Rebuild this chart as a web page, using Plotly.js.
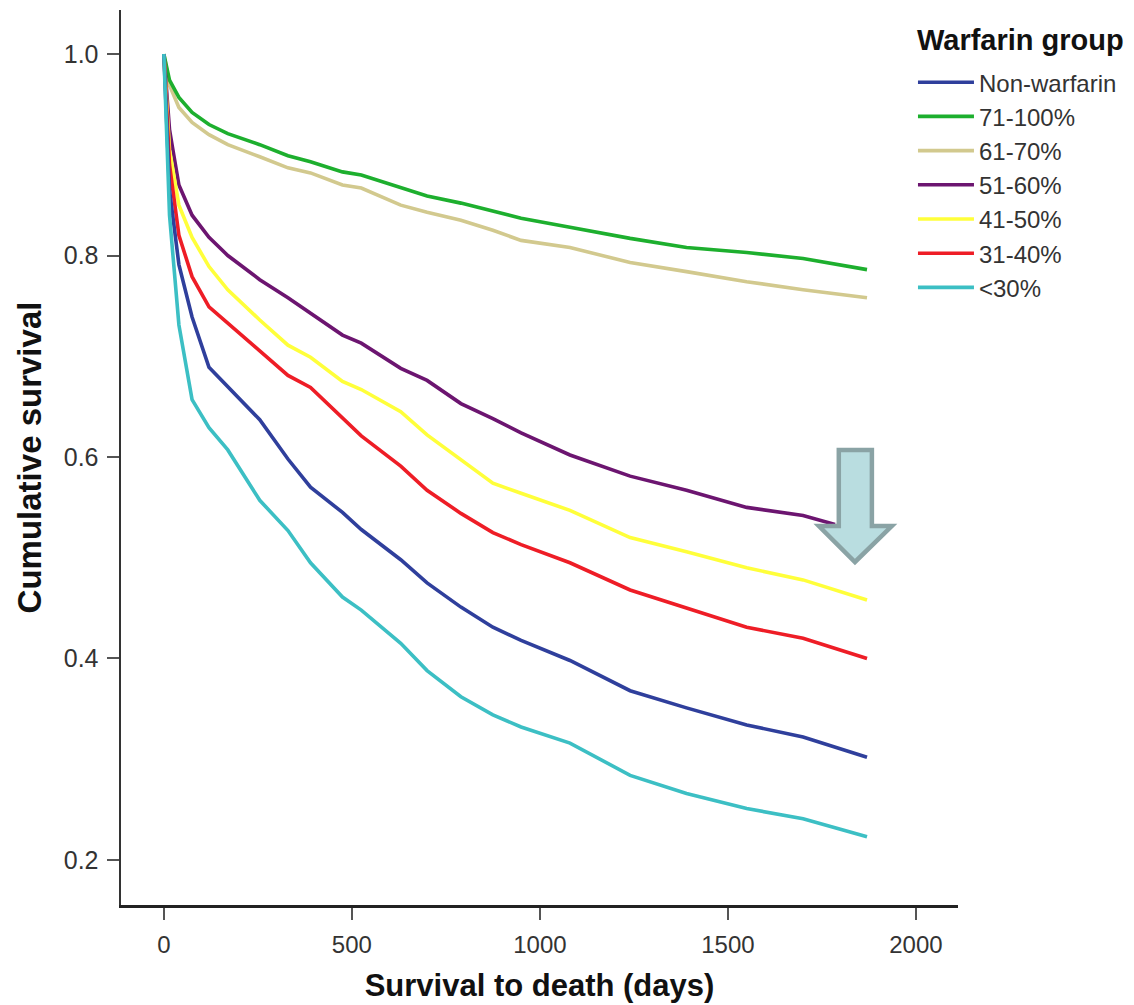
<!DOCTYPE html>
<html>
<head>
<meta charset="utf-8">
<script src="https://cdn.plot.ly/plotly-3.0.1.min.js"></script>
<style>html,body{margin:0;padding:0;background:#fff;}#chart{width:1134px;height:1005px;}</style>
</head>
<body>
<div id="chart"></div>
<script>
// ---- data ----
const seriesNames = ["Non-warfarin", "71-100%", "61-70%", "51-60%", "41-50%", "31-40%", "<30%"];
const legendTitle = "Warfarin group";
const days = [0, 15, 40, 75, 120, 170, 255, 330, 390, 475, 525, 630, 700, 790, 875, 950, 1080, 1240, 1390, 1550, 1700, 1870];
const daysPurple = [0, 15, 24, 40, 75, 120, 170, 255, 330, 390, 475, 525, 630, 700, 790, 875, 950, 1080, 1240, 1390, 1550, 1700, 1785];

const nonWarfarin = [1.0, 0.865, 0.791, 0.739, 0.689, 0.670, 0.637, 0.598, 0.570, 0.545, 0.528, 0.498, 0.475, 0.451, 0.431, 0.418, 0.398, 0.368, 0.351, 0.334, 0.322, 0.302];
const ttr71to100 = [1.0, 0.974, 0.957, 0.942, 0.930, 0.921, 0.910, 0.899, 0.893, 0.883, 0.880, 0.867, 0.859, 0.852, 0.844, 0.837, 0.828, 0.817, 0.808, 0.803, 0.797, 0.786];
const ttr61to70 = [1.0, 0.969, 0.947, 0.932, 0.920, 0.910, 0.898, 0.887, 0.882, 0.870, 0.867, 0.850, 0.843, 0.835, 0.825, 0.815, 0.808, 0.793, 0.784, 0.774, 0.766, 0.758];
const ttr51to60 = [1.0, 0.925, 0.905, 0.870, 0.840, 0.818, 0.800, 0.776, 0.758, 0.743, 0.721, 0.713, 0.688, 0.676, 0.653, 0.638, 0.624, 0.602, 0.581, 0.567, 0.550, 0.542, 0.533];
const ttr41to50 = [1.0, 0.905, 0.850, 0.818, 0.789, 0.766, 0.736, 0.711, 0.699, 0.675, 0.667, 0.645, 0.622, 0.597, 0.574, 0.564, 0.547, 0.520, 0.506, 0.490, 0.478, 0.458];
const ttr31to40 = [1.0, 0.890, 0.820, 0.779, 0.749, 0.733, 0.706, 0.681, 0.669, 0.639, 0.621, 0.591, 0.567, 0.544, 0.525, 0.513, 0.495, 0.468, 0.450, 0.431, 0.420, 0.400];
const ttrBelow30 = [1.0, 0.840, 0.731, 0.657, 0.629, 0.607, 0.557, 0.527, 0.495, 0.461, 0.448, 0.415, 0.388, 0.362, 0.344, 0.332, 0.316, 0.284, 0.266, 0.251, 0.241, 0.223];

const xTicks = [0, 500, 1000, 1500, 2000];
const yTicks = [0.2, 0.4, 0.6, 0.8, 1.0];
const yTickText = ["0.2", "0.4", "0.6", "0.8", "1.0"];

// ---- styling ----
const colors = ["#2F3F9C", "#1DAF2E", "#D2C98E", "#6C1570", "#FFFF3A", "#EE1D26", "#3CBFC4"];
const seriesX = [days, days, days, daysPurple, days, days, days];
const seriesY = [nonWarfarin, ttr71to100, ttr61to70, ttr51to60, ttr41to50, ttr31to40, ttrBelow30];
const drawOrder = [2, 1, 3, 4, 5, 0, 6];

const traces = seriesNames.map((name, i) => ({
  type: "scatter",
  mode: "lines",
  name: name,
  x: seriesX[i],
  y: seriesY[i],
  line: {color: colors[i], width: 3.6, shape: "linear"},
  legendgroup: "g" + i,
  legendrank: i + 1,
  hoverinfo: "skip"
}));
const orderedTraces = drawOrder.map(i => traces[i]);

const FONT = "Liberation Sans, Arial, Helvetica, sans-serif";

const layout = {
  width: 1134,
  height: 1005,
  margin: {l: 121, r: 176, t: 10, b: 100},
  paper_bgcolor: "#ffffff",
  plot_bgcolor: "#ffffff",
  font: {family: FONT, color: "#333"},
  showlegend: true,
  legend: {
    x: 0.9462, y: 0.944, xanchor: "left", yanchor: "top",
    font: {family: FONT, size: 24, color: "#333"},
    tracegroupgap: 0,
    itemwidth: 56,
    bgcolor: "rgba(0,0,0,0)"
  },
  annotations: [{
    text: "<b>" + legendTitle + "</b>",
    xref: "paper", yref: "paper",
    x: 0.9486, y: 0.9665, xanchor: "left", yanchor: "middle",
    showarrow: false,
    font: {family: FONT, size: 29, color: "#111"}
  }],
  xaxis: {
    range: [-114, 2112],
    tickvals: xTicks,
    ticks: "outside", ticklen: 12, tickwidth: 2, tickcolor: "#555",
    showline: true, linecolor: "#222", linewidth: 3,
    showgrid: false, zeroline: false,
    tickfont: {family: FONT, size: 24, color: "#333"},
    ticklabelstandoff: 4,
    title: {text: "<b>Survival to death (days)</b>", font: {family: FONT, size: 31, color: "#111"}, standoff: 18}
  },
  yaxis: {
    range: [0.1553, 1.0437],
    tickvals: yTicks,
    ticktext: yTickText,
    ticks: "outside", ticklen: 12, tickwidth: 2, tickcolor: "#555",
    showline: true, linecolor: "#333", linewidth: 2.5,
    showgrid: false, zeroline: false,
    tickfont: {family: FONT, size: 25, color: "#333"},
    ticklabelstandoff: 3,
    title: {text: "<b>Cumulative survival</b>", font: {family: FONT, size: 33, color: "#111"}, standoff: 12}
  },
  shapes: [{
    type: "path",
    xref: "x", yref: "y",
    path: "M 1795,0.607 L 1883,0.607 L 1883,0.5315 L 1936,0.5315 L 1838,0.4958 L 1742,0.5315 L 1795,0.5315 Z",
    fillcolor: "#B9DDE0",
    line: {color: "#8AA3A5", width: 4.5},
    layer: "above"
  }]
};

Plotly.newPlot("chart", orderedTraces, layout, {displayModeBar: false, staticPlot: true});
</script>
</body>
</html>
